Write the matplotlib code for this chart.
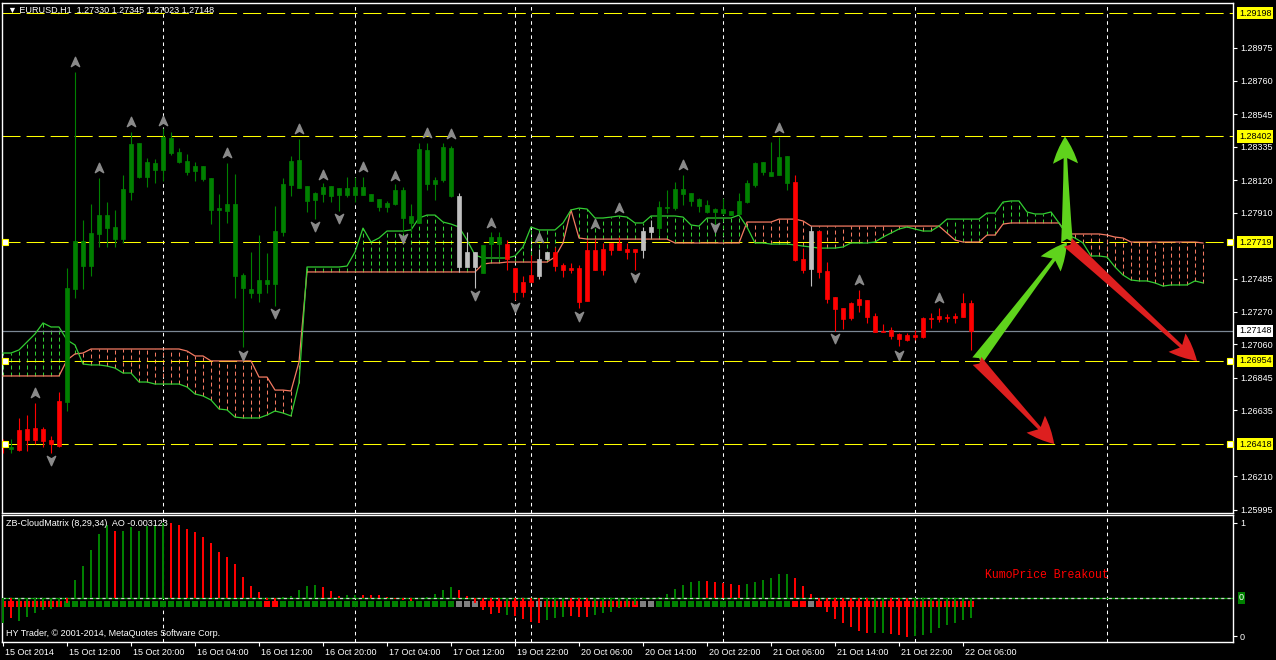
import numpy as np
import matplotlib
matplotlib.use('Agg')
import matplotlib.pyplot as plt
import matplotlib.transforms as mtransforms
from matplotlib.path import Path

plt.rcParams['font.family'] = ['Liberation Sans', 'DejaVu Sans']

# ---------------- EURUSD H1 bars ----------------
body_hi = [1.26438, 1.26399, 1.26509, 1.26515, 1.26521, 1.26515, 1.26444, 1.26696, 1.27424, 1.27728,
           1.27728, 1.27779, 1.27895, 1.27895, 1.27818, 1.28063, 1.28353, 1.28360, 1.28237, 1.28231,
           1.28398, 1.28392, 1.28302, 1.28244, 1.28211, 1.28211, 1.28134, 1.27940, 1.27966, 1.27966,
           1.27508, 1.27418, 1.27476, 1.27476, 1.27792, 1.28095, 1.28244, 1.28250, 1.28082, 1.28037,
           1.28076, 1.28082, 1.28069, 1.28069, 1.28076, 1.28076, 1.28031, 1.27998, 1.27973, 1.28057,
           1.28057, 1.27889, 1.28321, 1.28315, 1.28121, 1.28334, 1.28327, 1.28018, 1.27657, 1.27657,
           1.27702, 1.27753, 1.27753, 1.27708, 1.27553, 1.27463, 1.27508, 1.27611, 1.27657, 1.27657,
           1.27573, 1.27553, 1.27553, 1.27670, 1.27670, 1.27676, 1.27715, 1.27715, 1.27676, 1.27676,
           1.27792, 1.27818, 1.27947, 1.27947, 1.28063, 1.28063, 1.28037, 1.27998, 1.27960, 1.27934,
           1.27934, 1.27921, 1.27986, 1.28102, 1.28231, 1.28237, 1.28173, 1.28269, 1.28276, 1.28108,
           1.27611, 1.27792, 1.27792, 1.27534, 1.27366, 1.27295, 1.27328, 1.27353, 1.27347, 1.27244,
           1.27147, 1.27153, 1.27128, 1.27121, 1.27121, 1.27231, 1.27231, 1.27244, 1.27237, 1.27244,
           1.27328, 1.27330]
body_lo = [1.26399, 1.26386, 1.26380, 1.26444, 1.26444, 1.26438, 1.26418, 1.26405, 1.26689, 1.27418,
           1.27566, 1.27566, 1.27773, 1.27811, 1.27740, 1.27740, 1.28044, 1.28140, 1.28140, 1.28186,
           1.28186, 1.28295, 1.28237, 1.28173, 1.28179, 1.28127, 1.27928, 1.27928, 1.27921, 1.27502,
           1.27424, 1.27392, 1.27392, 1.27450, 1.27450, 1.27786, 1.28089, 1.28069, 1.27986, 1.27992,
           1.28031, 1.28018, 1.28024, 1.28024, 1.28024, 1.28024, 1.27986, 1.27947, 1.27947, 1.27966,
           1.27876, 1.27844, 1.27844, 1.28095, 1.28095, 1.28121, 1.28018, 1.27560, 1.27560, 1.27560,
           1.27521, 1.27708, 1.27708, 1.27611, 1.27399, 1.27399, 1.27463, 1.27502, 1.27611, 1.27566,
           1.27541, 1.27541, 1.27334, 1.27341, 1.27541, 1.27541, 1.27670, 1.27670, 1.27657, 1.27657,
           1.27670, 1.27786, 1.27811, 1.27940, 1.27940, 1.28031, 1.27986, 1.27953, 1.27915, 1.27915,
           1.27908, 1.27895, 1.27902, 1.27979, 1.28089, 1.28173, 1.28147, 1.28153, 1.28102, 1.27605,
           1.27541, 1.27547, 1.27528, 1.27353, 1.27289, 1.27224, 1.27231, 1.27315, 1.27237, 1.27141,
           1.27141, 1.27115, 1.27095, 1.27089, 1.27108, 1.27108, 1.27224, 1.27224, 1.27231, 1.27231,
           1.27237, 1.27148]
bar_high = [1.26450, 1.26450, 1.26586, 1.26605, 1.26683, 1.26528, 1.26470, 1.26754, 1.27553, 1.28818,
            1.27863, 1.27966, 1.28134, 1.27979, 1.27928, 1.28153, 1.28431, 1.28360, 1.28263, 1.28256,
            1.28456, 1.28431, 1.28327, 1.28289, 1.28237, 1.28211, 1.28134, 1.28031, 1.28231, 1.28160,
            1.27521, 1.27657, 1.27766, 1.27650, 1.27953, 1.28134, 1.28276, 1.28385, 1.28082, 1.28044,
            1.28102, 1.28082, 1.28069, 1.28140, 1.28140, 1.28140, 1.28031, 1.27998, 1.27986, 1.28095,
            1.28076, 1.27966, 1.28360, 1.28360, 1.28140, 1.28360, 1.28340, 1.28037, 1.27786, 1.27657,
            1.27702, 1.27786, 1.27786, 1.27734, 1.27553, 1.27502, 1.27637, 1.27676, 1.27657, 1.27689,
            1.27586, 1.27586, 1.27573, 1.27734, 1.27740, 1.27715, 1.27715, 1.27753, 1.27715, 1.27676,
            1.27818, 1.27863, 1.27986, 1.28057, 1.28108, 1.28153, 1.28037, 1.28005, 1.27992, 1.27940,
            1.28005, 1.27921, 1.28037, 1.28121, 1.28237, 1.28237, 1.28366, 1.28398, 1.28276, 1.28153,
            1.27682, 1.27824, 1.27792, 1.27592, 1.27366, 1.27295, 1.27334, 1.27411, 1.27347, 1.27263,
            1.27192, 1.27173, 1.27134, 1.27134, 1.27153, 1.27237, 1.27263, 1.27295, 1.27257, 1.27263,
            1.27392, 1.27345]
bar_low = [1.26360, 1.26360, 1.26373, 1.26373, 1.26418, 1.26399, 1.26360, 1.26399, 1.26631, 1.27360,
           1.27418, 1.27502, 1.27689, 1.27689, 1.27689, 1.27715, 1.27992, 1.28134, 1.28076, 1.28102,
           1.28115, 1.28282, 1.28231, 1.28153, 1.28115, 1.28115, 1.27837, 1.27715, 1.27844, 1.27360,
           1.27044, 1.27360, 1.27334, 1.27392, 1.27308, 1.27760, 1.28018, 1.28069, 1.27915, 1.27869,
           1.27979, 1.27979, 1.27921, 1.28011, 1.27979, 1.28024, 1.27986, 1.27921, 1.27915, 1.27960,
           1.27786, 1.27786, 1.27844, 1.28057, 1.27992, 1.28108, 1.28011, 1.27528, 1.27560, 1.27424,
           1.27521, 1.27624, 1.27618, 1.27541, 1.27347, 1.27366, 1.27463, 1.27482, 1.27611, 1.27534,
           1.27495, 1.27521, 1.27295, 1.27341, 1.27541, 1.27508, 1.27637, 1.27670, 1.27611, 1.27541,
           1.27618, 1.27747, 1.27766, 1.27908, 1.27928, 1.27960, 1.27953, 1.27915, 1.27908, 1.27818,
           1.27895, 1.27895, 1.27895, 1.27973, 1.28076, 1.28153, 1.28147, 1.28153, 1.28057, 1.27599,
           1.27521, 1.27437, 1.27489, 1.27328, 1.27147, 1.27160, 1.27218, 1.27270, 1.27199, 1.27141,
           1.27141, 1.27095, 1.27050, 1.27083, 1.27089, 1.27102, 1.27166, 1.27205, 1.27205, 1.27199,
           1.27237, 1.27023]
# g = uptrend, r = downtrend, w = neutral (CloudMatrix colouring)
bar_trend = ("rgrrrrrrgg" "gggggggggg" "gggggggggg" "gggggggggg" "gggggggggg"
             "gggggggwww" "gggrrrrwwr" "rrrrrrrrrr" "wwgggggggg" "gggggggggr"
             "rwrrrrrrrr" "rrrrrrrrrr" "rr")

# Ichimoku kumo (shifted 26 bars forward)
span_a = [1.27005, 1.27005, 1.27025, 1.27076, 1.27128, 1.27199, 1.27173, 1.27173, 1.27089, 1.27057,
          1.26934, 1.26928, 1.26928, 1.26921, 1.26908, 1.26876, 1.26876, 1.26818, 1.26818, 1.26805,
          1.26805, 1.26805, 1.26805, 1.26786, 1.26741, 1.26728, 1.26702, 1.26644, 1.26638, 1.26592,
          1.26586, 1.26586, 1.26586, 1.26605, 1.26631, 1.26618, 1.26599, 1.26812, 1.27560, 1.27560,
          1.27560, 1.27560, 1.27560, 1.27566, 1.27657, 1.27811, 1.27721, 1.27747, 1.27792, 1.27792,
          1.27792, 1.27799, 1.27876, 1.27895, 1.27895, 1.27850, 1.27837, 1.27818, 1.27734, 1.27637,
          1.27618, 1.27618, 1.27618, 1.27618, 1.27631, 1.27689, 1.27818, 1.27799, 1.27799, 1.27799,
          1.27844, 1.27928, 1.27940, 1.27934, 1.27876, 1.27876, 1.27882, 1.27889, 1.27882, 1.27844,
          1.27844, 1.27889, 1.27889, 1.27889, 1.27889, 1.27882, 1.27831, 1.27824, 1.27876, 1.27876,
          1.27876, 1.27876, 1.27895, 1.27818, 1.27715, 1.27715, 1.27708, 1.27708, 1.27708, 1.27702,
          1.27695, 1.27689, 1.27682, 1.27682, 1.27682, 1.27689, 1.27715, 1.27715, 1.27715, 1.27721,
          1.27753, 1.27779, 1.27805, 1.27818, 1.27805, 1.27792, 1.27792, 1.27824, 1.27869, 1.27869,
          1.27869, 1.27869, 1.27869, 1.27908, 1.27908, 1.27979, 1.27986, 1.27986, 1.27915, 1.27902,
          1.27902, 1.27915, 1.27844, 1.27766, 1.27747, 1.27715, 1.27631, 1.27631, 1.27624, 1.27560,
          1.27508, 1.27476, 1.27470, 1.27470, 1.27457, 1.27437, 1.27444, 1.27444, 1.27444, 1.27470,
          1.27457]
span_b = [1.26857, 1.26857, 1.26857, 1.26857, 1.26857, 1.26857, 1.26857, 1.26857, 1.26960, 1.26999,
          1.27005, 1.27031, 1.27031, 1.27031, 1.27031, 1.27031, 1.27031, 1.27031, 1.27031, 1.27031,
          1.27031, 1.27031, 1.27031, 1.27018, 1.26986, 1.26986, 1.26954, 1.26954, 1.26954, 1.26954,
          1.26954, 1.26954, 1.26850, 1.26850, 1.26766, 1.26766, 1.26760, 1.26947, 1.27528, 1.27528,
          1.27528, 1.27528, 1.27528, 1.27528, 1.27528, 1.27528, 1.27528, 1.27528, 1.27528, 1.27528,
          1.27528, 1.27528, 1.27528, 1.27528, 1.27528, 1.27528, 1.27528, 1.27528, 1.27528, 1.27528,
          1.27579, 1.27586, 1.27586, 1.27592, 1.27592, 1.27592, 1.27592, 1.27592, 1.27592, 1.27624,
          1.27715, 1.27928, 1.27747, 1.27740, 1.27740, 1.27740, 1.27740, 1.27740, 1.27740, 1.27740,
          1.27740, 1.27740, 1.27740, 1.27740, 1.27715, 1.27715, 1.27715, 1.27715, 1.27715, 1.27715,
          1.27715, 1.27715, 1.27715, 1.27850, 1.27850, 1.27850, 1.27850, 1.27869, 1.27869, 1.27869,
          1.27857, 1.27824, 1.27824, 1.27824, 1.27824, 1.27824, 1.27824, 1.27824, 1.27824, 1.27824,
          1.27824, 1.27824, 1.27824, 1.27824, 1.27824, 1.27824, 1.27824, 1.27824, 1.27779, 1.27734,
          1.27721, 1.27721, 1.27721, 1.27766, 1.27766, 1.27837, 1.27844, 1.27844, 1.27844, 1.27844,
          1.27844, 1.27844, 1.27844, 1.27773, 1.27773, 1.27773, 1.27773, 1.27773, 1.27766, 1.27753,
          1.27747, 1.27721, 1.27721, 1.27721, 1.27721, 1.27721, 1.27721, 1.27721, 1.27721, 1.27721,
          1.27715]

# fractals
up_frac_bar = [4, 9, 12, 16, 20, 28, 37, 40, 45, 49, 53, 56, 61, 67, 74, 77, 85, 97, 107, 117]
up_frac_px = [1.26747, 1.28882, 1.28198, 1.28495, 1.28502, 1.28295, 1.28450, 1.28153, 1.28205, 1.28147,
              1.28424, 1.28418, 1.27844, 1.27747, 1.27837, 1.27940, 1.28218, 1.28456, 1.27476, 1.27360]
dn_frac_bar = [6, 30, 34, 39, 42, 50, 59, 64, 72, 79, 89, 104, 112]
dn_frac_px = [1.26315, 1.26992, 1.27263, 1.27824, 1.27876, 1.27747, 1.27379, 1.27302, 1.27244, 1.27495,
              1.27818, 1.27102, 1.26992]

# drawn objects
hlines = [1.29198, 1.28402, 1.27719, 1.26954, 1.26418]
anchored = [1.27719, 1.26954, 1.26418]
last_price = 1.27148
day_starts = [20, 44, 64, 66, 90, 114, 138]
arrows = [((121.75, 1.26954), (133.0, 1.27719), '#5fd31c'),
          ((133.0, 1.27719), (132.75, 1.28402), '#5fd31c'),
          ((133.1, 1.27719), (149.25, 1.26954), '#dd1f1f'),
          ((121.75, 1.26954), (131.4, 1.26418), '#dd1f1f')]

# ZB-CloudMatrix AO histogram
ao = [-0.00390, -0.00312, -0.00359, -0.00296, -0.00234, -0.00187, -0.00172, -0.00140, -0.00078, 0.00281,
      0.00499, 0.00749, 0.00998, 0.01139, 0.01045, 0.01045, 0.01108, 0.01045, 0.01123, 0.01139,
      0.01170, 0.01170, 0.01139, 0.01076, 0.01030, 0.00952, 0.00858, 0.00718, 0.00640, 0.00530,
      0.00328, 0.00187, 0.00094, -0.00031, -0.00140, 0.00016, 0.00031, 0.00125, 0.00187, 0.00203,
      0.00172, 0.00109, 0.00031, 0.00047, 0.00047, 0.00047, 0.00047, 0.00047, 0.00016, -0.00008,
      -0.00031, -0.00047, -0.00016, 0.00016, 0.00062, 0.00125, 0.00172, 0.00125, 0.00031, -0.00078,
      -0.00187, -0.00250, -0.00234, -0.00265, -0.00281, -0.00328, -0.00374, -0.00390, -0.00343, -0.00312,
      -0.00296, -0.00281, -0.00296, -0.00296, -0.00265, -0.00234, -0.00218, -0.00156, -0.00140, -0.00109,
      -0.00016, -0.00008, 0.00016, 0.00062, 0.00140, 0.00203, 0.00250, 0.00265, 0.00265, 0.00250,
      0.00234, 0.00218, 0.00203, 0.00218, 0.00250, 0.00281, 0.00312, 0.00374, 0.00374, 0.00312,
      0.00187, 0.00062, -0.00078, -0.00218, -0.00328, -0.00390, -0.00452, -0.00515, -0.00546, -0.00546,
      -0.00546, -0.00562, -0.00577, -0.00608, -0.00593, -0.00577, -0.00546, -0.00468, -0.00421, -0.00390,
      -0.00343, -0.003123]
ao_col = ("grggggggrg" "ggggrggggg" "grrrrrrrrr" "rrrrrggggg" "rrrggrrrrr"
          "rrgggggrrr" "rrrgrrrrgg" "grrrgggggg" "ggggggggrr" "rrrggggggr"
          "rrrrrrrrrg" "grrrgggggg" "gg")
sq_col = ("rrrrrrrrgg" "gggggggggg" "gggggggggg" "gggrrggggg" "gggggggggg"
          "gggggggwww" "rrrrrrrwrr" "rrrrrrrrrr" "wwgggggggg" "gggggggggr"
          "rwrrrrrrrr" "rrrrrrrrrr" "rr")
sq_level = -0.00094

xtick_bar = [0, 8, 16, 24, 32, 40, 48, 56, 64, 72, 80, 88, 96, 104, 112, 120]
xtick_lab = ['15 Oct 2014', '15 Oct 12:00', '15 Oct 20:00', '16 Oct 04:00', '16 Oct 12:00',
             '16 Oct 20:00', '17 Oct 04:00', '17 Oct 12:00', '19 Oct 22:00', '20 Oct 06:00',
             '20 Oct 14:00', '20 Oct 22:00', '21 Oct 06:00', '21 Oct 14:00', '21 Oct 22:00',
             '22 Oct 06:00']
price_ticks = [1.28975, 1.28760, 1.28545, 1.28335, 1.28120, 1.27910,
               1.27485, 1.27270, 1.27060, 1.26845, 1.26635, 1.26210, 1.25995]

# ---------------- drawing ----------------
W, H = 1276, 660
fig = plt.figure(figsize=(W / 100, H / 100), dpi=100, facecolor='black')
ax = fig.add_axes([2 / W, 1 - 513 / H, 1231 / W, 510 / H])
ax2 = fig.add_axes([2 / W, 1 - 642 / H, 1231 / W, 127 / H])

candle_c = {'g': '#008000', 'r': '#ff0000', 'w': '#c0c0c0'}
sq_c = {'g': '#008000', 'r': '#ff0000', 'w': '#808080'}

for a in (ax, ax2):
    a.set_facecolor('black')
    a.set_xlim(-0.125, 153.75)
    for s in a.spines.values():
        s.set_color('white')
        s.set_linewidth(1.0)
    for d in day_starts:
        a.axvline(d, color='white', lw=0.75, ls=(0, (3.4, 3.4)), zorder=1)

# kumo
xc = np.arange(len(span_a))
sa = np.array(span_a)
sb = np.array(span_b)
ga = sa >= sb
ax.vlines(xc[ga], sb[ga], sa[ga], colors='#32cd32', lw=0.75, linestyles=(0, (3.8, 2.9)), zorder=2)
ax.vlines(xc[~ga], sa[~ga], sb[~ga], colors='#f47a62', lw=0.75, linestyles=(0, (3.8, 2.9)), zorder=2)
ax.plot(xc, sb, color='#f47a62', lw=0.9, zorder=3)
ax.plot(xc, sa, color='#32cd32', lw=0.9, zorder=3)

# horizontal levels
ax.axhline(last_price, color='#7b8794', lw=0.9, zorder=2)
for lv in hlines:
    ax.axhline(lv, color='#ffff00', lw=0.75, ls=(0, (17.3, 5.8)), zorder=2)
ax.plot([0.25] * len(anchored), anchored, ls='none', marker='s', ms=4, mfc='white', mec='#ffff00', mew=0.8, zorder=6)
ax.plot([153.4] * len(anchored), anchored, ls='none', marker='s', ms=4, mfc='white', mec='#ffff00', mew=0.8,
        zorder=6, clip_on=False)

# candles
xb = np.arange(len(body_hi))
cc = [candle_c[k] for k in bar_trend]
ax.vlines(xb, bar_low, bar_high, colors=cc, lw=0.8, zorder=4)
ax.bar(xb, np.array(body_hi) - np.array(body_lo), bottom=body_lo, width=0.6, color=cc,
       edgecolor=cc, linewidth=0.5, zorder=5)

# fractal arrows
up_arrow = Path([(0, 1), (0.8, -0.8), (0, -0.3), (-0.8, -0.8), (0, 1)],
                [Path.MOVETO, Path.LINETO, Path.LINETO, Path.LINETO, Path.CLOSEPOLY])
dn_arrow = Path([(0, -1), (0.8, 0.8), (0, 0.3), (-0.8, 0.8), (0, -1)],
                [Path.MOVETO, Path.LINETO, Path.LINETO, Path.LINETO, Path.CLOSEPOLY])
ax.plot(up_frac_bar, up_frac_px, ls='none', marker=up_arrow, ms=7.5, color='#8a8a8a', zorder=6)
ax.plot(dn_frac_bar, dn_frac_px, ls='none', marker=dn_arrow, ms=7.5, color='#8a8a8a', zorder=6)

# analysis arrows
for tail, head, col in arrows:
    ax.annotate('', xy=head, xytext=tail,
                arrowprops=dict(arrowstyle='fancy,head_length=0.65,head_width=0.6,tail_width=0.28',
                                fc=col, ec='none', shrinkA=0, shrinkB=0, mutation_scale=30,
                                connectionstyle='arc3,rad=0'), zorder=7)

ax.set_ylim(1.25973, 1.29263)
ax.tick_params(axis='x', bottom=False, labelbottom=False)
ax.yaxis.tick_right()
ax.set_yticks(price_ticks)
ax.set_yticklabels([f'{p:.5f}' for p in price_ticks])
ax.tick_params(axis='y', colors='white', labelsize=6.5, length=3, width=0.8, pad=2)

blend = mtransforms.blended_transform_factory(ax.transAxes, ax.transData)
for lv in hlines:
    ax.text(1 + 6 / 1231, lv, f'{lv:.5f}', transform=blend, ha='left', va='center', fontsize=6.5,
            color='black', clip_on=False, zorder=10,
            bbox=dict(boxstyle='square,pad=0.18', fc='#ffff00', ec='none'))
ax.text(1 + 6 / 1231, last_price, f'{last_price:.5f}', transform=blend, ha='left', va='center',
        fontsize=6.5, color='black', clip_on=False, zorder=10,
        bbox=dict(boxstyle='square,pad=0.18', fc='white', ec='none'))

fig.text(8 / W, 1 - 10 / H, '\u25bc EURUSD,H1  1.27330 1.27345 1.27023 1.27148', color='white',
         fontsize=6.5, va='center', ha='left')

# lower panel
ax2.axhline(0, color='#00a000', lw=0.9, zorder=1)
ax2.axhline(0, color='#d0d0d0', lw=0.9, ls=(0, (2.5, 2.5)), zorder=1)
ax2.scatter(xb, [sq_level] * len(xb), marker='s', s=18, c=[sq_c[k] for k in sq_col], linewidths=0, zorder=2)
ax2.bar(xb, ao, width=0.36, color=[sq_c[k] for k in ao_col], zorder=3)
ax2.set_ylim(-0.006864, 0.012948)
ax2.yaxis.tick_right()
ax2.set_yticks([0.0117, -0.00593])
ax2.set_yticklabels(['1', '0'])
ax2.tick_params(axis='y', colors='white', labelsize=6.5, length=3, width=0.8, pad=2)
blend2 = mtransforms.blended_transform_factory(ax2.transAxes, ax2.transData)
ax2.text(1 + 6 / 1231, 0, '0', transform=blend2, ha='left', va='center', fontsize=6.5, color='white',
         clip_on=False, zorder=10, bbox=dict(boxstyle='square,pad=0.15', fc='#008000', ec='none'))

ax2.set_xticks(xtick_bar)
ax2.set_xticklabels(xtick_lab)
ax2.tick_params(axis='x', colors='white', labelsize=6.5, length=3, width=0.8, pad=1)
shift = mtransforms.ScaledTranslation(2 / 100, 0, fig.dpi_scale_trans)
for lab in ax2.get_xticklabels():
    lab.set_horizontalalignment('left')
    lab.set_transform(lab.get_transform() + shift)

ax2.text(4 / 1231, 0.937, 'ZB-CloudMatrix (8,29,34)  AO -0.003123', transform=ax2.transAxes,
         color='white', fontsize=6.5, va='center', ha='left')
ax2.text(4 / 1231, 0.063, 'HY Trader, \u00a9 2001-2014, MetaQuotes Software Corp.', transform=ax2.transAxes,
         color='white', fontsize=6.5, va='center', ha='left')
ax2.text(122.75, 0.00359, 'KumoPrice Breakout', color='#ff0000', fontsize=8.3,
         family=['Liberation Mono', 'DejaVu Sans Mono'], va='center', ha='left', zorder=5)

fig.savefig('out.png', dpi=100, facecolor='black')
